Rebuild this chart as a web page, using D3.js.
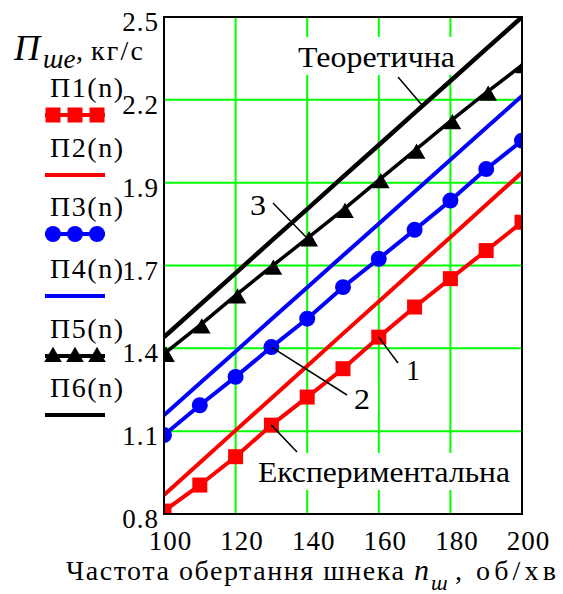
<!DOCTYPE html>
<html lang="uk">
<head>
<meta charset="utf-8">
<title>П ше від частоти обертання шнека</title>
<script src="https://d3js.org/d3.v7.min.js"></script>
<style>
  body { margin: 0; background: #fff; }
  text { font-family: "Liberation Serif", "Times New Roman", serif; fill: #000; }
</style>
</head>
<body>
<script>
// DATA
var nVals = [100, 110, 120, 130, 140, 150, 160, 170, 180, 190, 200];
var p1 = [0.81, 0.899, 0.996, 1.104, 1.200, 1.297, 1.405, 1.508, 1.605, 1.701, 1.798];
var p2 = [0.865, 0.975, 1.086, 1.196, 1.306, 1.417, 1.527, 1.637, 1.747, 1.858, 1.968];
var p3 = [1.07, 1.172, 1.269, 1.371, 1.468, 1.576, 1.673, 1.772, 1.872, 1.98, 2.077];
var p4 = [1.138, 1.247, 1.356, 1.466, 1.575, 1.684, 1.793, 1.902, 2.012, 2.121, 2.23];
var p5 = [1.348, 1.445, 1.548, 1.646, 1.743, 1.840, 1.942, 2.043, 2.144, 2.241, 2.335];
var p6 = [1.405, 1.515, 1.624, 1.734, 1.843, 1.953, 2.062, 2.172, 2.281, 2.391, 2.5];
var xTicks = [100, 120, 140, 160, 180, 200];
var yTickLabels = ["0.8", "1.1", "1.4", "1.7", "1.9", "2.2", "2.5"];
var legendNames = ["П1(n)", "П2(n)", "П3(n)", "П4(n)", "П5(n)", "П6(n)"];

// SIZE
var w = 563, h = 594;
var pL = 164, pR = 522, pT = 17, pB = 514;

var svg = d3.select("body").append("svg")
  .attr("width", w).attr("height", h);

var x = d3.scaleLinear().domain([100, 200]).range([pL, pR]);
var y = d3.scaleLinear().domain([0.8, 2.5]).range([pB, pT]);
var yTickVals = yTickLabels.map(function(d, i) { return 0.8 + i * (2.5 - 0.8) / (yTickLabels.length - 1); });

// GRID
svg.append("g").selectAll("line")
  .data(xTicks).enter().append("line")
  .attr("x1", function(d) { return x(d); }).attr("x2", function(d) { return x(d); })
  .attr("y1", pT).attr("y2", pB)
  .attr("stroke", "#00ff00").attr("stroke-width", 2);
svg.append("g").selectAll("line")
  .data(yTickVals).enter().append("line")
  .attr("x1", pL).attr("x2", pR)
  .attr("y1", function(d) { return y(d); }).attr("y2", function(d) { return y(d); })
  .attr("stroke", "#00ff00").attr("stroke-width", 2);

// white boxes behind the notes
var boxes = [[295, 37, 163, 38], [253, 453, 262, 37], [344, 383, 34, 30]];
svg.append("g").selectAll("rect")
  .data(boxes).enter().append("rect")
  .attr("x", function(d) { return d[0]; }).attr("y", function(d) { return d[1]; })
  .attr("width", function(d) { return d[2]; }).attr("height", function(d) { return d[3]; })
  .attr("fill", "#fff");

// AXES (labels only)
var xAxis = svg.append("g")
  .attr("transform", "translate(6," + pB + ")")
  .call(d3.axisBottom(x).tickValues(xTicks).tickSize(0).tickPadding(17)
    .tickFormat(function(d) { return d; }));
var yAxis = svg.append("g")
  .attr("transform", "translate(" + (pL - 5) + ",5)")
  .call(d3.axisLeft(y).tickValues(yTickVals).tickSize(0).tickPadding(0)
    .tickFormat(function(d, i) { return yTickLabels[i]; }));
[xAxis, yAxis].forEach(function(a) {
  a.select(".domain").remove();
  a.selectAll("text")
    .attr("font-family", "Liberation Serif")
    .attr("font-size", 27)
    .attr("letter-spacing", 1)
    .attr("fill", "#000");
});

// SERIES
svg.append("clipPath").attr("id", "plotclip")
  .append("rect").attr("x", pL).attr("y", pT)
  .attr("width", pR - pL).attr("height", pB - pT);

var plot = svg.append("g").attr("clip-path", "url(#plotclip)");
var line = d3.line()
  .x(function(d, i) { return x(nVals[i]); })
  .y(function(d) { return y(d); });

var series = [
  { v: p2, c: "#ff0000", sw: 4 },
  { v: p1, c: "#ff0000", sw: 4 },
  { v: p4, c: "#0000ff", sw: 4 },
  { v: p3, c: "#0000ff", sw: 4 },
  { v: p6, c: "#000", sw: 4.5 },
  { v: p5, c: "#000", sw: 3.5 }
];
series.forEach(function(s) {
  plot.append("path").datum(s.v)
    .attr("d", line).attr("fill", "none")
    .attr("stroke", s.c).attr("stroke-width", s.sw)
    .attr("stroke-linejoin", "round");
});

var sq = d3.symbol().type(d3.symbolSquare).size(225);
var ci = d3.symbol().type(d3.symbolCircle).size(200);
var tr = d3.symbol().type(d3.symbolTriangle).size(135);

plot.append("g").selectAll("path").data(p1).enter().append("path")
  .attr("d", sq).attr("fill", "#ff0000")
  .attr("transform", function(d, i) { return "translate(" + x(nVals[i]) + "," + y(d) + ")"; });
plot.append("g").selectAll("path").data(p3).enter().append("path")
  .attr("d", ci).attr("fill", "#0000ff")
  .attr("transform", function(d, i) { return "translate(" + x(nVals[i]) + "," + y(d) + ")"; });
plot.append("g").selectAll("path").data(p5).enter().append("path")
  .attr("d", tr).attr("fill", "#000")
  .attr("transform", function(d, i) { return "translate(" + (x(nVals[i]) + 2) + "," + (y(d) + 3) + ")"; });

// FRAME
svg.append("rect")
  .attr("x", pL).attr("y", pT)
  .attr("width", pR - pL).attr("height", pB - pT)
  .attr("fill", "none").attr("stroke", "#000").attr("stroke-width", 2);

// NOTES
var notes = [
  { t: "Теоретична", x: 298, y: 67, len: 157, lx1: 398, ly1: 77, n: 170, v: p6 },
  { t: "3", x: 250, y: 215, len: 16, lx1: 273, ly1: 203, n: 140, v: p5 },
  { t: "2", x: 354, y: 409, len: 16, lx1: 347, ly1: 395, n: 130, v: p3 },
  { t: "1", x: 406, y: 380, len: 14, lx1: 398, ly1: 363, n: 160, v: p1 },
  { t: "Експериментальна", x: 258, y: 482, len: 252, lx1: 297, ly1: 452, n: 130, v: p1 }
];
notes.forEach(function(d) {
  var i = nVals.indexOf(d.n);
  var tx = x(d.n), ty = y(d.v[i]);
  if (d.t == "Теоретична") { tx = x(172); ty = y(2.2); }
  svg.append("line")
    .attr("x1", d.lx1).attr("y1", d.ly1).attr("x2", tx).attr("y2", ty)
    .attr("stroke", "#000").attr("stroke-width", 1.5);
  svg.append("text")
    .attr("x", d.x).attr("y", d.y)
    .attr("font-size", 30)
    .attr("textLength", d.len).attr("lengthAdjust", "spacingAndGlyphs")
    .text(d.t);
});

// LEGEND
var legY = [97, 157, 216, 278, 338, 397];
var leg = svg.append("g");
leg.selectAll("text").data(legendNames).enter().append("text")
  .attr("x", 50).attr("y", function(d, i) { return legY[i]; })
  .attr("font-size", 28)
  .attr("textLength", 73).attr("lengthAdjust", "spacing")
  .text(function(d) { return d; });
var legStyle = [
  { c: "#ff0000", sym: sq },
  { c: "#ff0000", sym: null },
  { c: "#0000ff", sym: ci },
  { c: "#0000ff", sym: null },
  { c: "#000", sym: tr },
  { c: "#000", sym: null }
];
legStyle.forEach(function(s, i) {
  var ly = legY[i] + 18;
  leg.append("line")
    .attr("x1", 45).attr("x2", 105).attr("y1", ly).attr("y2", ly)
    .attr("stroke", s.c).attr("stroke-width", 4);
  if (s.sym) {
    [53, 75, 97].forEach(function(mx) {
      leg.append("path").attr("d", s.sym).attr("fill", s.c)
        .attr("transform", "translate(" + mx + "," + (ly + (s.sym === tr ? 1 : 0)) + ")");
    });
  }
});

// AXIS TITLES
var yt = svg.append("text").attr("y", 60);
yt.append("tspan").attr("x", 14).attr("font-style", "italic").attr("font-size", 36).text("П");
yt.append("tspan").attr("x", 43).attr("font-style", "italic").attr("font-size", 27).attr("dy", 8).text("ше");
yt.append("tspan").attr("x", 76).attr("font-size", 28).attr("dy", -8).text(",");
yt.append("tspan").attr("x", 91).attr("font-size", 28)
  .attr("textLength", 52).attr("lengthAdjust", "spacing").text("кг/с");

var xt = svg.append("text").attr("y", 580).attr("font-size", 28);
xt.append("tspan").attr("x", 66).attr("textLength", 338).attr("lengthAdjust", "spacing")
  .text("Частота обертання шнека");
xt.append("tspan").attr("x", 414).attr("font-style", "italic").attr("font-size", 30).text("n");
xt.append("tspan").attr("x", 431).attr("font-style", "italic").attr("font-size", 22).attr("dy", 10).text("ш");
xt.append("tspan").attr("x", 455).attr("dy", -10).text(",");
xt.append("tspan").attr("x", 476)
  .attr("textLength", 80).attr("lengthAdjust", "spacing").text("об/хв");
</script>
</body>
</html>
